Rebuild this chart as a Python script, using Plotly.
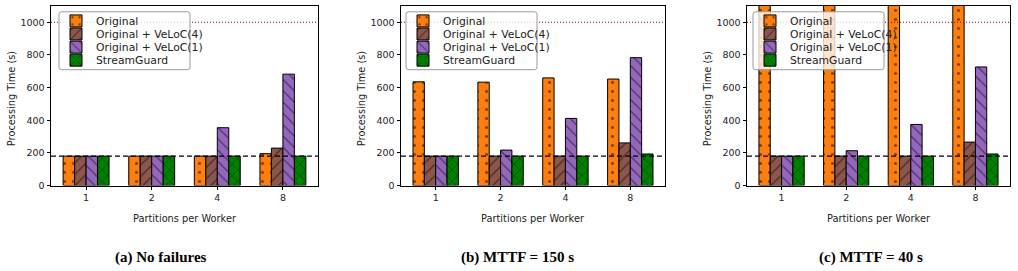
import plotly.graph_objects as go

categories = ["1", "2", "4", "8"]
series_names = ["Original", "Original + VeLoC(4)", "Original + VeLoC(1)", "StreamGuard"]

# Panel (a) No failures
a_original = [180, 180, 180, 195]
a_veloc4 = [180, 180, 180, 229]
a_veloc1 = [180, 180, 354, 682]
a_streamguard = [180, 180, 180, 180]

# Panel (b) MTTF = 150 s
b_original = [635, 633, 659, 652]
b_veloc4 = [180, 180, 180, 261]
b_veloc1 = [180, 217, 411, 783]
b_streamguard = [180, 180, 180, 193]

# Panel (c) MTTF = 40 s (Original exceeds axis)
c_original = [1500, 1500, 1500, 1500]
c_veloc4 = [180, 180, 180, 266]
c_veloc1 = [180, 213, 374, 726]
c_streamguard = [180, 180, 180, 193]

captions = ["(a) No failures", "(b) MTTF = 150 s", "(c) MTTF = 40 s"]
baseline = 180
limit = 1000
y_max = 1100
y_ticks = [0, 200, 400, 600, 800, 1000]

colors = ["#ff7f0e", "#8c564b", "#9467bd", "#008000"]
patterns = [".", "/", "\\", "x"]

W, H = 1018, 271
panel_px = [(51, 318), (401, 665), (747, 1010)]
legend_box_px = [(59, 190), (406, 537), (753, 884)]
legend_top_px, legend_bot_px = 12, 71
legend_rows_px = [21.3, 34.6, 48.0, 61.3]
caption_px = [161, 517, 871]
y_top_px, y_bot_px = 6, 189

panels = [
    [a_original, a_veloc4, a_veloc1, a_streamguard],
    [b_original, b_veloc4, b_veloc1, b_streamguard],
    [c_original, c_veloc4, c_veloc1, c_streamguard],
]

fig = go.Figure()
font_family = "DejaVu Sans"
text_color = "#222"


def rounded_rect_path(x0, x1, y0, y1, r):
    def px(x):
        return x / W

    def py(y):
        return 1 - y / H
    pts = [
        f"M {px(x0 + r)},{py(y0)}",
        f"L {px(x1 - r)},{py(y0)}",
        f"Q {px(x1)},{py(y0)} {px(x1)},{py(y0 + r)}",
        f"L {px(x1)},{py(y1 - r)}",
        f"Q {px(x1)},{py(y1)} {px(x1 - r)},{py(y1)}",
        f"L {px(x0 + r)},{py(y1)}",
        f"Q {px(x0)},{py(y1)} {px(x0)},{py(y1 - r)}",
        f"L {px(x0)},{py(y0 + r)}",
        f"Q {px(x0)},{py(y0)} {px(x0 + r)},{py(y0)}",
        "Z",
    ]
    return " ".join(pts)


legend_layouts = {}
leg_idx = 0
for p, data in enumerate(panels):
    xa = "x" if p == 0 else f"x{p+1}"
    ya = "y" if p == 0 else f"y{p+1}"
    for s, vals in enumerate(data):
        leg_idx += 1
        lname = "legend" if leg_idx == 1 else f"legend{leg_idx}"
        fig.add_trace(go.Bar(
            x=categories, y=vals, name=series_names[s],
            xaxis=xa, yaxis=ya, legend=lname,
            marker=dict(color=colors[s], line=dict(color="black", width=1),
                        pattern=dict(shape=patterns[s], fgcolor="black", bgcolor=colors[s],
                                     size=9 if s == 0 else 8,
                                     solidity=0.1 if s == 0 else 0.15,
                                     fillmode="overlay")),
            showlegend=True,
        ))
        text_left = legend_box_px[p][0] + 37
        legend_layouts[lname] = dict(
            x=(text_left - 40) / W, y=1 - legend_rows_px[s] / H,
            xanchor="left", yanchor="middle", xref="paper", yref="paper",
            bgcolor="rgba(0,0,0,0)", borderwidth=0, itemwidth=30,
            font=dict(family=font_family, size=10.8, color=text_color),
        )
    dom_x = [panel_px[p][0] / W, panel_px[p][1] / W]
    dom_y = [1 - y_bot_px / H, 1 - y_top_px / H]
    axkey = "xaxis" if p == 0 else f"xaxis{p+1}"
    aykey = "yaxis" if p == 0 else f"yaxis{p+1}"
    fig.update_layout(**{
        axkey: dict(domain=dom_x, anchor=ya, type="category", range=[-0.535, 3.535],
                    showline=True, linecolor="black", linewidth=1, mirror=True,
                    ticks="outside", ticklen=3.5, tickcolor="black",
                    tickfont=dict(family=font_family, size=9.5, color=text_color),
                    showgrid=False, zeroline=False),
        aykey: dict(domain=dom_y, anchor=xa, range=[0, y_max], tickvals=y_ticks,
                    showline=True, linecolor="black", linewidth=1, mirror=True,
                    ticks="outside", ticklen=3.5, tickcolor="black",
                    tickfont=dict(family=font_family, size=9.5, color=text_color),
                    showgrid=False, zeroline=False),
    })
    fig.add_shape(type="line", xref=f"{xa} domain", yref=ya, x0=0, x1=1, y0=baseline, y1=baseline,
                  line=dict(color="black", width=1.3, dash="5px,3px"), layer="above")
    fig.add_shape(type="line", xref=f"{xa} domain", yref=ya, x0=0, x1=1, y0=limit, y1=limit,
                  line=dict(color="#8b0000", width=1.1, dash="1px,2px"), layer="above")
    bx0, bx1 = legend_box_px[p]
    fig.add_shape(type="path", xref="paper", yref="paper",
                  path=rounded_rect_path(bx0, bx1, legend_top_px, legend_bot_px, 2.5),
                  fillcolor="rgba(255,255,255,0.8)", line=dict(color="#9a9a9a", width=1),
                  layer="above")
    cx = (panel_px[p][0] + panel_px[p][1]) / 2 / W
    fig.add_annotation(text="Partitions per Worker", xref="paper", yref="paper",
                       x=cx, y=1 - 223 / H, showarrow=False, xanchor="center", yanchor="middle",
                       font=dict(family=font_family, size=9.8, color=text_color))
    fig.add_annotation(text="Processing Time (s)", xref="paper", yref="paper",
                       x=(panel_px[p][0] - 40) / W, y=1 - 101 / H, textangle=-90, showarrow=False,
                       xanchor="center", yanchor="middle",
                       font=dict(family=font_family, size=9.8, color=text_color))
    fig.add_annotation(text=f"<b>{captions[p]}</b>", xref="paper", yref="paper",
                       x=caption_px[p] / W, y=1 - 262 / H, showarrow=False,
                       xanchor="center", yanchor="middle",
                       font=dict(family="Liberation Serif", size=15, color="black"))

fig.update_layout(
    width=W, height=H, margin=dict(l=0, r=0, t=0, b=0),
    paper_bgcolor="white", plot_bgcolor="white",
    barmode="group", bargap=0.3, bargroupgap=0,
    showlegend=True,
    **legend_layouts,
)

fig.write_html("out.html")
